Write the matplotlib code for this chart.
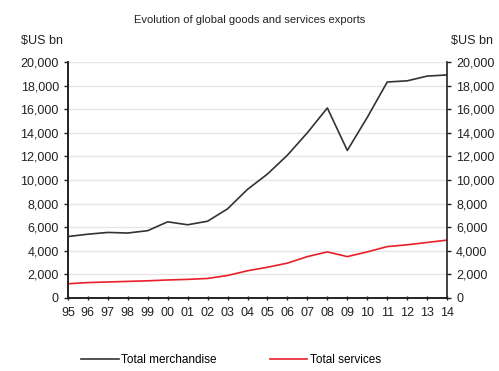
import matplotlib
matplotlib.use('Agg')
import matplotlib.pyplot as plt

plt.rcParams['font.family'] = ['Liberation Sans', 'DejaVu Sans']

# Datos (miles de millones USD)
years = ['95', '96', '97', '98', '99', '00', '01', '02', '03', '04',
         '05', '06', '07', '08', '09', '10', '11', '12', '13', '14']
merchandise = [5200, 5400, 5550, 5500, 5700, 6450, 6200, 6500, 7550, 9200,
               10500, 12100, 14000, 16100, 12500, 15300, 18300, 18400, 18800, 18900]
services = [1200, 1300, 1350, 1400, 1450, 1520, 1570, 1650, 1900, 2300,
            2600, 2950, 3500, 3900, 3500, 3900, 4350, 4500, 4700, 4900]

fig = plt.figure(figsize=(4.99, 3.71), dpi=100)
ax = fig.add_axes([0.136, 0.197, 0.76, 0.636])

x = list(range(len(years)))
ax.plot(x, merchandise, color='#333333', linewidth=1.2, label='Total merchandise')
ax.plot(x, services, color='#e8202a', linewidth=1.2, label='Total services')

ax.set_xlim(0, len(years) - 1)
ax.set_ylim(0, 20000)
yt = list(range(0, 20001, 2000))
ax.set_yticks(yt)
ax.set_yticklabels([f'{v:,}' for v in yt])
ax.set_xticks(x)
ax.set_xticklabels(years)
ax.grid(True, axis='y', color='#e6e6e6', linewidth=1.0)
ax.set_axisbelow(True)

ax2 = ax.twinx()
ax2.set_ylim(0, 20000)
ax2.set_yticks(yt)
ax2.set_yticklabels([f'{v:,}' for v in yt])

for a in (ax, ax2):
    a.spines['top'].set_visible(False)
    for s in ('left', 'right', 'bottom'):
        a.spines[s].set_color('#222222')
        a.spines[s].set_linewidth(1.2)
    a.tick_params(axis='y', labelsize=9, colors='#222222', length=3, width=1)
ax.tick_params(axis='x', labelsize=9, colors='#222222', length=3, width=1,
               direction='inout', pad=5)
ax.spines['right'].set_visible(False)

fig.text(0.5, 0.945, 'Evolution of global goods and services exports',
         ha='center', va='center', fontsize=8, color='#222222')
fig.text(0.085, 0.89, '$US bn', ha='center', va='center', fontsize=9, color='#222222')
fig.text(0.945, 0.89, '$US bn', ha='center', va='center', fontsize=9, color='#222222')

ax.legend(loc='center', bbox_to_anchor=(0.43, -0.265), ncol=2, frameon=False,
          fontsize=8.5, handlelength=3.2, handletextpad=0.2, columnspacing=4.5)

fig.savefig('out.png', dpi=100)
